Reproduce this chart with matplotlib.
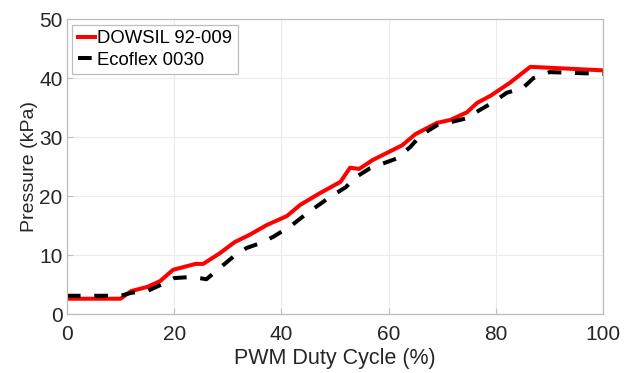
import matplotlib
matplotlib.use("Agg")
import matplotlib.pyplot as plt

red_x = [0, 10, 12, 15, 17.4, 19.8, 24, 25.4, 28.5, 31.3, 34, 37.3, 41, 43.5, 47, 51,
         52.8, 54.5, 57, 62.5, 65, 69, 71.5, 74.6, 76.5, 79, 82.6, 86.4, 100]
red_y = [2.6, 2.6, 3.9, 4.6, 5.6, 7.5, 8.5, 8.5, 10.3, 12.2, 13.4, 15.1, 16.6, 18.5, 20.4, 22.4,
         24.8, 24.6, 26.1, 28.6, 30.5, 32.4, 32.9, 34.2, 35.8, 37.0, 39.2, 41.9, 41.3]
blk_x = [0, 10, 12, 15, 17.4, 20, 23.5, 26, 31, 33.5, 36, 38.5, 42, 44.8, 49, 52,
         53.7, 56.5, 61.6, 64, 66, 69, 71.5, 74.6, 77, 79.5, 82, 85, 87, 90, 100]
blk_y = [3.1, 3.1, 3.6, 3.9, 4.9, 6.1, 6.3, 5.9, 9.7, 11.2, 12.0, 13.1, 15.1, 17.1, 19.8, 21.5,
         23.1, 24.7, 26.4, 28.3, 30.3, 32.0, 32.5, 33.2, 34.6, 35.9, 37.5, 38.3, 40.0, 41.0, 40.7]
x_ticks = [0, 20, 40, 60, 80, 100]
y_ticks = [0, 10, 20, 30, 40, 50]

plt.rcParams['font.family'] = ['Liberation Sans', 'DejaVu Sans']
fig = plt.figure(figsize=(6.31, 3.73), dpi=100)
ax = fig.add_axes([0.106, 0.158, 0.850, 0.791])
ax.plot(red_x, red_y, color='#ff0000', lw=2.9, label='DOWSIL 92-009')
ax.plot(blk_x, blk_y, color='black', lw=2.9, dashes=(3.4, 3.4), label='Ecoflex 0030')
ax.set_xlim(0, 100)
ax.set_ylim(0, 50)
ax.set_xticks(x_ticks)
ax.set_yticks(y_ticks)
ax.grid(True, color='#ebebeb', lw=0.8)
ax.set_axisbelow(True)
for s in ax.spines.values():
    s.set_color('#bdbdbd')
    s.set_linewidth(0.9)
ax.tick_params(direction='in', length=4, color='#bdbdbd', labelsize=15, labelcolor='#262626')
ax.tick_params(axis='x', pad=8)
ax.tick_params(axis='y', pad=3)
ax.set_xlabel('PWM Duty Cycle (%)', fontsize=15.5, color='#262626', labelpad=3)
ax.set_ylabel('Pressure (kPa)', fontsize=14, color='#262626', labelpad=1)
leg = ax.legend(loc='upper left', fontsize=13.3, handlelength=0.9, handletextpad=0.15,
                borderpad=0.3, labelspacing=0.25, fancybox=False, framealpha=1,
                borderaxespad=0.3)
leg.get_frame().set_edgecolor('#bdbdbd')
leg.get_frame().set_linewidth(0.9)
fig.savefig('out.png', dpi=100)
